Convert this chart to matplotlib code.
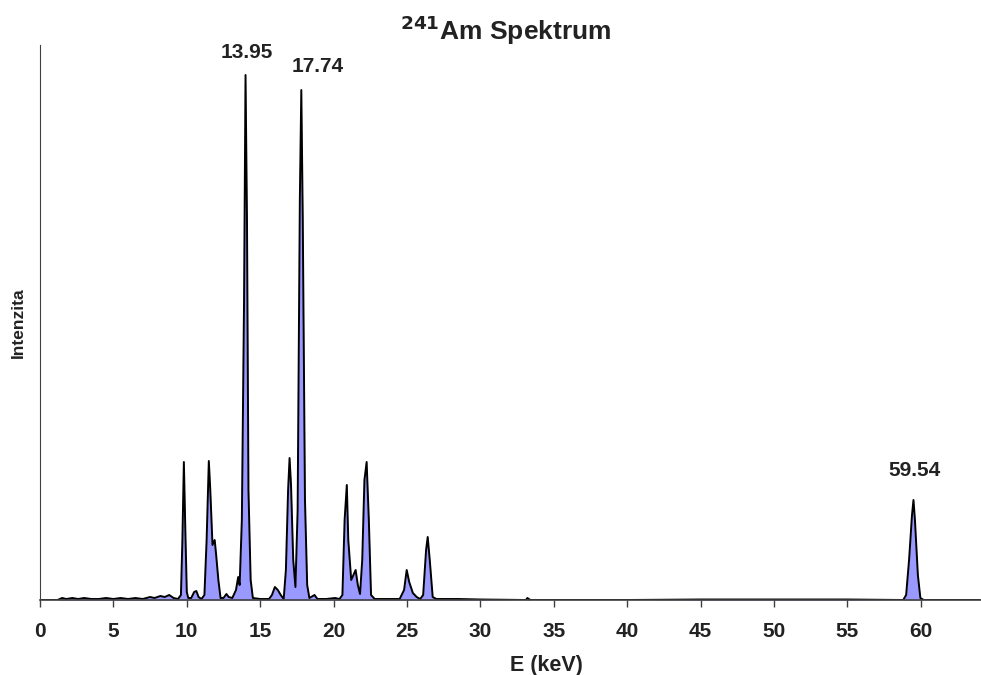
import matplotlib
matplotlib.use("Agg")
import matplotlib.pyplot as plt

plt.rcParams['font.family'] = ['Liberation Sans', 'DejaVu Sans']

# spectrum (energy in keV, intensity in arbitrary units)
energy = [0.0, 1.2, 1.5, 1.8, 2.2, 2.6, 3.0, 3.5, 4.0, 4.5, 5.0, 5.5, 6.0, 6.5,
          7.0, 7.5, 7.8, 8.2, 8.5, 8.8, 9.1, 9.4, 9.6, 9.7, 9.8, 9.9, 10.0,
          10.1, 10.3, 10.5, 10.65, 10.8, 11.0, 11.2, 11.35, 11.5, 11.6, 11.75,
          11.9, 12.0, 12.15, 12.3, 12.5, 12.7, 12.85, 13.1, 13.35, 13.5, 13.6,
          13.75, 13.9, 14.0, 14.1, 14.2, 14.35, 14.5, 15.0, 15.6, 15.8, 16.0,
          16.2, 16.4, 16.6, 16.75, 16.9, 17.0, 17.1, 17.25, 17.4, 17.55, 17.7,
          17.8, 17.9, 18.05, 18.2, 18.35, 18.7, 18.9, 19.5, 20.1, 20.4, 20.6,
          20.75, 20.9, 21.0, 21.2, 21.35, 21.5, 21.65, 21.8, 21.95, 22.1, 22.25,
          22.4, 22.55, 22.8, 23.5, 24.5, 24.8, 24.98, 25.15, 25.4, 25.66, 25.9,
          26.1, 26.3, 26.41, 26.55, 26.75, 27.0, 28.5, 30.0, 33.1, 33.2, 33.4,
          35.0, 40.0, 45.0, 50.0, 55.0, 58.8, 59.0, 59.2, 59.4, 59.5, 59.6,
          59.8, 59.97, 60.2, 64.0]
counts = [0, 0, 2, 1, 2, 1, 2, 1, 1, 2, 1, 2, 1, 2,
          1, 3, 2, 4, 3, 5, 2, 1, 5, 60, 138, 70, 8,
          2, 2, 8, 9, 3, 1, 5, 60, 139, 110, 55,
          60, 45, 20, 2, 2, 6, 3, 2, 10, 23, 15,
          80, 300, 525, 380, 110, 20, 2, 1, 1, 5, 13,
          10, 5, 1, 30, 110, 142, 115, 40, 13, 90, 400,
          510, 380, 100, 15, 2, 5, 1, 1, 2, 1, 5,
          80, 115, 60, 20, 25, 30, 15, 6, 40, 120, 138,
          80, 5, 1, 1, 1, 10, 30, 18, 7, 3, 1,
          5, 50, 63, 40, 3, 1, 1, 0.5, 0, 2, 0,
          0, 0, 0.5, 0.5, 0.5, 0, 5, 40, 85, 100, 80,
          25, 2, 0, 0]

peak_labels = ['13.95', '17.74', '59.54']
label_x = [14.1, 18.94, 59.6]
label_y = [547, 533, 130]

fig = plt.figure(figsize=(9.81, 6.75), dpi=100)
ax = fig.add_axes([40/981, 1 - 600/675, 1 - 40/981, 555/675])

ax.fill_between(energy, counts, 0, color='#9999ff', lw=0)
ax.plot(energy, counts, color='black', lw=1.4)

for t, x, y in zip(peak_labels, label_x, label_y):
    ax.text(x, y, t, ha='center', va='center', fontsize=15, fontweight='bold',
            color='#222222')

ax.set_xlim(0, 64.1)
ax.set_ylim(0, 555)
ax.set_xticks(range(0, 61, 5))
ax.set_yticks([])
ax.tick_params(axis='x', direction='out', length=5, width=1, color='#404040',
               labelsize=15, pad=11, labelcolor='#222222')
for lab in ax.get_xticklabels():
    lab.set_fontweight('bold')
ax.spines['top'].set_visible(False)
ax.spines['right'].set_visible(False)
ax.spines['left'].set_color('#404040')
ax.spines['bottom'].set_color('#404040')
ax.spines['bottom'].set_linewidth(1.2)

ax.set_xlabel('E (keV)', fontsize=15.5, fontweight='bold', color='#222222')
ax.xaxis.set_label_coords(506/941, -66/555)
ax.xaxis.label.set_va('center')
ax.set_ylabel('Intenzita', fontsize=12.5, fontweight='bold', color='#222222')
ax.yaxis.set_label_coords(-22/941, 0.5)
ax.yaxis.label.set_va('center')
fig.text(506/981, 1 - 30/675, r'$^{\mathbf{241}}$Am Spektrum', ha='center',
         va='center', fontsize=19, fontweight='bold', color='#222222')

fig.savefig('out.png', dpi=100)
